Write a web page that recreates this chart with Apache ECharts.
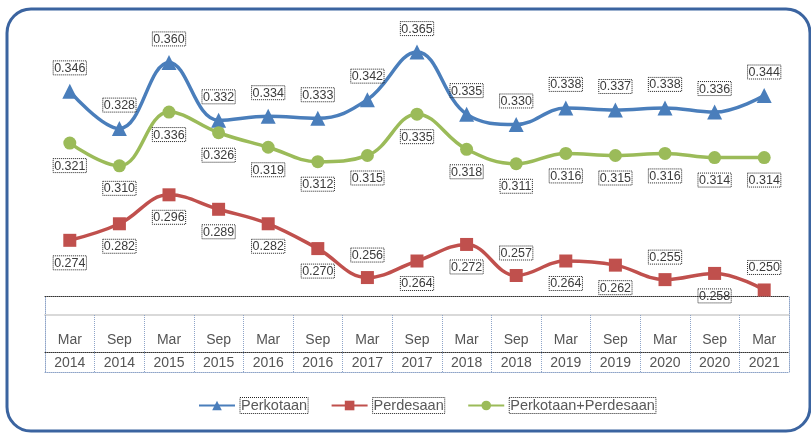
<!DOCTYPE html>
<html>
<head>
<meta charset="utf-8">
<script src="https://cdn.jsdelivr.net/npm/echarts@6/dist/echarts.min.js"></script>
<style>
html,body{margin:0;padding:0;background:#fff;}
#c{width:811px;height:434px;}
</style>
</head>
<body>
<div id="c"></div>
<script>
const months = ['Mar','Sep','Mar','Sep','Mar','Sep','Mar','Sep','Mar','Sep','Mar','Sep','Mar','Sep','Mar'];
const years = ['2014','2014','2015','2015','2016','2016','2017','2017','2018','2018','2019','2019','2020','2020','2021'];
const perkotaan = [0.346,0.328,0.360,0.332,0.334,0.333,0.342,0.365,0.335,0.330,0.338,0.337,0.338,0.336,0.344];
const perdesaan = [0.274,0.282,0.296,0.289,0.282,0.270,0.256,0.264,0.272,0.257,0.264,0.262,0.255,0.258,0.250];
const gabungan = [0.321,0.310,0.336,0.326,0.319,0.312,0.315,0.335,0.318,0.311,0.316,0.315,0.316,0.314,0.314];
const seriesNames = ['Perkotaan','Perdesaan','Perkotaan+Perdesaan'];

const categories = months.map((m, i) => m + '\n' + years[i]);
const perdesaanAbove = [6, 9, 12, 14];

const chart = echarts.init(document.getElementById('c'), null, {renderer: 'canvas'});
const FONT = 'Liberation Sans';
const lbl = (pos) => ({
  show: true,
  position: pos,
  distance: 9,
  formatter: (p) => p.value.toFixed(3),
  fontFamily: FONT,
  fontSize: 12.5,
  color: '#3a3a3a',
  borderColor: '#222',
  borderWidth: 1,
  borderType: 'dotted',
  padding: [1, 1, 0, 1]
});
const hiddenCat = (grid, pos, color) => ({
  type: 'category', gridIndex: grid, data: categories, position: pos,
  axisLine: {show: true, onZero: false, lineStyle: {color: color, type: 'dotted', width: 1}},
  axisTick: {show: false}, axisLabel: {show: false}, splitLine: {show: false}
});
const borderY = (grid, pos) => ({
  type: 'value', gridIndex: grid, position: pos, min: 0, max: 1,
  axisLine: {show: true, onZero: false, lineStyle: {color: '#8ea4c8', type: 'dotted'}},
  axisTick: {show: false}, axisLabel: {show: false}, splitLine: {show: false}
});

const option = {
  animation: false,
  backgroundColor: '#fff',
  graphic: [{
    type: 'rect',
    shape: {x: 7, y: 9, width: 803, height: 422, r: 24},
    style: {fill: 'none', stroke: '#3b64a0', lineWidth: 3},
    z: 100
  }],
  legend: {
    bottom: 15,
    left: 193,
    itemWidth: 36,
    itemHeight: 12,
    itemGap: 22,
    data: seriesNames,
    textStyle: {
      fontFamily: FONT, fontSize: 14.5, color: '#595959',
      borderColor: '#222', borderWidth: 1, borderType: 'dotted', padding: [1, 1, 0, 1]
    }
  },
  grid: [
    {left: 45, right: 22, top: 20, bottom: 119},
    {left: 45, right: 22, top: 296, bottom: 62},
    {left: 45, right: 22, top: 352, bottom: 62}
  ],
  xAxis: [
    {
      type: 'category', gridIndex: 0, data: categories, boundaryGap: true,
      axisLine: {show: true, onZero: false, lineStyle: {color: '#d9d9d9', width: 2}},
      axisTick: {show: true, interval: 0, length: 57, lineStyle: {color: '#8ea4c8', type: 'dotted', width: 1}},
      axisLabel: {interval: 0, margin: 14, fontFamily: FONT, fontSize: 14, color: '#555', lineHeight: 23}
    },
    hiddenCat(1, 'top', '#333'),
    hiddenCat(1, 'bottom', '#8ea4c8'),
    hiddenCat(2, 'top', '#333')
  ],
  yAxis: [
    {type: 'value', gridIndex: 0, min: 0.2379, max: 0.3805, show: false},
    borderY(1, 'left'),
    borderY(1, 'right'),
    {type: 'value', gridIndex: 2, show: false, min: 0, max: 1}
  ],
  series: [
    {
      name: seriesNames[0], type: 'line', xAxisIndex: 0, yAxisIndex: 0,
      data: perkotaan, smooth: 0.4,
      symbol: 'triangle', symbolSize: 15,
      lineStyle: {color: '#4a7ebb', width: 3.5},
      itemStyle: {color: '#4a7ebb'},
      label: lbl('top')
    },
    {
      name: seriesNames[1], type: 'line', xAxisIndex: 0, yAxisIndex: 0,
      data: perdesaan.map((v, i) => ({
        value: v,
        label: {position: perdesaanAbove.includes(i) ? 'top' : 'bottom'}
      })),
      smooth: 0.4,
      symbol: 'rect', symbolSize: 13,
      lineStyle: {color: '#c0504d', width: 3.5},
      itemStyle: {color: '#c0504d'},
      label: lbl('bottom')
    },
    {
      name: seriesNames[2], type: 'line', xAxisIndex: 0, yAxisIndex: 0,
      data: gabungan, smooth: 0.4,
      symbol: 'circle', symbolSize: 13,
      lineStyle: {color: '#9bbb59', width: 3.5},
      itemStyle: {color: '#9bbb59'},
      label: lbl('bottom')
    }
  ]
};
chart.setOption(option);
</script>
</body>
</html>
